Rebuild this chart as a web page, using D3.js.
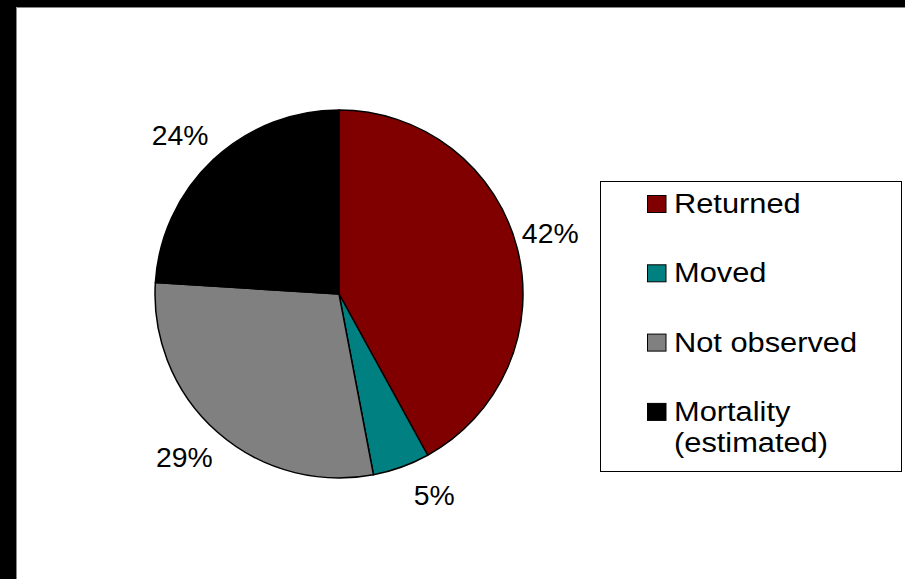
<!DOCTYPE html>
<html>
<head>
<meta charset="utf-8">
<script src="https://cdn.jsdelivr.net/npm/d3@7"></script>
<style>
  html, body { margin: 0; padding: 0; background: #fff; overflow: hidden; }
  svg { display: block; }
  text { font-family: Arial, "Liberation Sans", sans-serif; fill: #000; }
</style>
</head>
<body>
<svg id="chart" width="905" height="579"></svg>
<script>
// Fate of tagged individuals (percent of total)
const categories = ["Returned", "Moved", "Not observed", "Mortality (estimated)"];
const legendLines = [["Returned"], ["Moved"], ["Not observed"], ["Mortality", "(estimated)"]];
const values = [42, 5, 29, 24];
const colors = ["#800000", "#008080", "#808080", "#000000"];

const W = 905, H = 579;
const svg = d3.select("#chart");

// white chart area with a dark band along the left and top edges
svg.append("rect").attr("x", 0).attr("y", 0).attr("width", W).attr("height", H).attr("fill", "#fff");
svg.append("rect").attr("x", 0).attr("y", 0).attr("width", W).attr("height", 7).attr("fill", "#000");
svg.append("rect").attr("x", 0).attr("y", 0).attr("width", 16).attr("height", H).attr("fill", "#000");
svg.append("path").attr("d", `M16.5,${H}V7.5H${W}`)
  .attr("fill", "none").attr("stroke", "#888").attr("stroke-width", 1);

const cx = 339, cy = 294, r = 184;

const pie = d3.pie().sort(null).value(d => d.v).startAngle(0).endAngle(2 * Math.PI);
const data = pie(categories.map((c, i) => ({ c, v: values[i], color: colors[i] })));
const arc = d3.arc().innerRadius(0).outerRadius(r);

const g = svg.append("g").attr("transform", `translate(${cx},${cy})`);
g.selectAll("path.slice").data(data).join("path")
  .attr("class", "slice")
  .attr("d", arc)
  .attr("fill", d => d.data.color)
  .attr("stroke", "#000")
  .attr("stroke-width", 1.5)
  .attr("stroke-linejoin", "round");

// percentage labels placed just outside each slice's outer edge
const fmt = d => d3.format(".0f")(d.data.v) + "%";
const pctSize = 27, pctStretch = 1.05;
g.selectAll("text.pct").data(data).join("text")
  .attr("class", "pct")
  .attr("font-size", pctSize)
  .attr("text-anchor", "middle")
  .text(fmt)
  .attr("transform", d => {
    const a = (d.startAngle + d.endAngle) / 2;
    const s = Math.sin(a), c = -Math.cos(a);
    const ex = r * s, ey = r * c;
    const x = ex + Math.sign(s) * 33;
    const y = ey + Math.sign(c) * 29 * Math.sqrt(Math.abs(c));
    return `translate(${x},${y + pctSize * 0.36}) scale(${pctStretch},1)`;
  });

// legend
const lg = svg.append("g");
const lx = 600.5, ly = 181.5, lw = 301, lh = 290;
lg.append("rect").attr("x", lx).attr("y", ly).attr("width", lw).attr("height", lh)
  .attr("fill", "#fff").attr("stroke", "#000").attr("stroke-width", 1);

const legSize = 28, legStretch = 1.1;
const itemStep = 69.3, firstBase = 213, lineStep = 31.5;
const items = lg.selectAll("g.item").data(categories).join("g").attr("class", "item")
  .attr("transform", (d, i) => `translate(0,${firstBase + i * itemStep})`);
items.append("rect")
  .attr("x", 647.5).attr("y", -17.5).attr("width", 18.5).attr("height", 17)
  .attr("fill", (d, i) => colors[i]).attr("stroke", "#000").attr("stroke-width", 1);
items.append("text")
  .attr("transform", `translate(674,0) scale(${legStretch},1)`)
  .attr("font-size", legSize)
  .selectAll("tspan").data((d, i) => legendLines[i]).join("tspan")
  .attr("x", 0).attr("dy", (d, j) => j === 0 ? 0 : lineStep)
  .text(d => d);
</script>
</body>
</html>
